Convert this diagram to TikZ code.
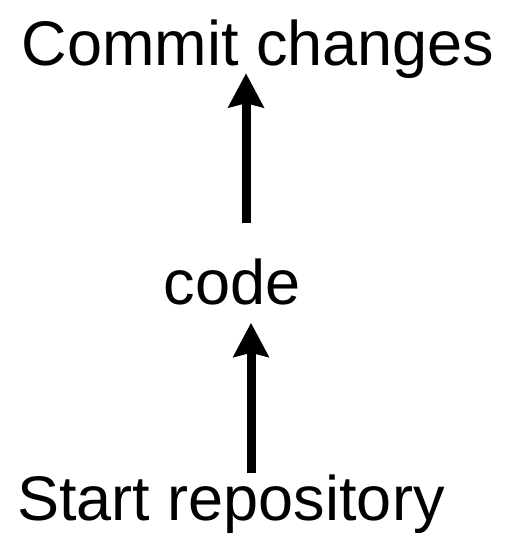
\documentclass[tikz,border=0pt]{standalone}
\usepackage{fontspec}
\setmainfont{Liberation Sans}
\usetikzlibrary{arrows.meta, positioning}

\begin{document}
\begin{tikzpicture}[
    x=1pt, y=-1pt,
    label/.style={inner sep=0pt, anchor=base, font=\fontsize{63}{63}\selectfont},
    flow/.style={line width=9pt, -{Stealth[length=34pt, width=35pt, inset=4pt]}}
]
    \useasboundingbox (0,0) rectangle (509,534);

    % Texts
    \node[label] (COMMIT) at (258,66) {Commit changes};
    \node[label] (CODE) at (232,304) {code};
    \node[label] (START) at (231,520) {Start repository};

    % Arrows
    \draw[flow] ([xshift=14pt, yshift=35pt]CODE.north) -- ([xshift=-12pt, yshift=6pt]COMMIT.south);
    \draw[flow] ([xshift=20pt, yshift=1pt]START.north) -- ([xshift=19pt, yshift=-18pt]CODE.south);

\end{tikzpicture}
\end{document}
